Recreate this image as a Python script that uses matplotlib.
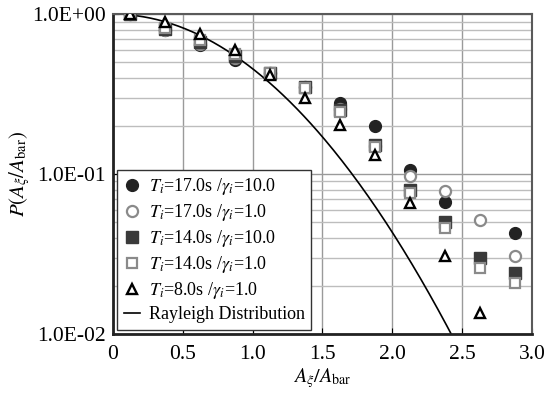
import matplotlib
matplotlib.use("Agg")
import matplotlib.pyplot as plt
import numpy as np
from matplotlib.ticker import FixedLocator, LogLocator, NullFormatter

plt.rcParams['font.family'] = ['Liberation Serif', 'DejaVu Serif']
plt.rcParams['mathtext.fontset'] = 'stix'

# bin centres of A/Abar
x = [0.125, 0.375, 0.625, 0.875, 1.125, 1.375, 1.625, 1.875, 2.125, 2.375, 2.625, 2.875]

# exceedance probabilities
t17_g10 = [1.0, 0.80, 0.64, 0.52, 0.43, 0.35, 0.279, 0.200, 0.106, 0.067, None, 0.043]
t17_g1 = [1.0, 0.80, 0.65, 0.53, 0.43, 0.35, 0.255, 0.150, 0.097, 0.078, 0.052, 0.031]
t14_g10 = [1.0, 0.81, 0.67, 0.55, 0.43, 0.35, 0.250, 0.152, 0.080, 0.050, 0.030, 0.024]
t14_g1 = [1.0, 0.82, 0.69, 0.56, 0.43, 0.345, 0.246, 0.148, 0.076, 0.046, 0.026, 0.021]
t8_g1 = [1.0, 0.90, 0.755, 0.60, 0.417, 0.30, 0.204, 0.131, 0.066, 0.031, 0.0135, None]

labels = [r"$T_i$=17.0s /$\gamma_i$=10.0",
          r"$T_i$=17.0s /$\gamma_i$=1.0",
          r"$T_i$=14.0s /$\gamma_i$=10.0",
          r"$T_i$=14.0s /$\gamma_i$=1.0",
          r"$T_i$=8.0s /$\gamma_i$=1.0",
          "Rayleigh Distribution"]

def clean(vals):
    return np.array([np.nan if v is None else v for v in vals], dtype=float)

fig = plt.figure(figsize=(5.48, 3.94), dpi=100)
ax = fig.add_axes([0.206, 0.152, 0.765, 0.812])

ax.plot(x, clean(t17_g10), 'o', ms=8.5, mfc='#222222', mec='#222222', label=labels[0], zorder=3)
ax.plot(x, clean(t17_g1), 'o', ms=8.0, mfc='white', mec='#8a8a8a', mew=1.6, label=labels[1], zorder=3)
ax.plot(x, clean(t14_g10), 's', ms=8.0, mfc='#3a3a3a', mec='#3a3a3a', label=labels[2], zorder=3)
ax.plot(x, clean(t14_g1), 's', ms=7.5, mfc='white', mec='#8a8a8a', mew=1.6, label=labels[3], zorder=3)
ax.plot(x, clean(t8_g1), '^', ms=7.0, mfc='white', mec='black', mew=1.7, label=labels[4], zorder=4)

# theoretical Rayleigh exceedance curve
xr = np.linspace(0.12, 2.6, 200)
ax.plot(xr, np.exp(-np.pi / 4 * xr ** 2), color='black', lw=1.2, label=labels[5], zorder=2)

ax.set_yscale('log')
ax.set_xlim(0, 3.0)
ax.set_ylim(0.01, 1.0)

ax.xaxis.set_major_locator(FixedLocator([0, 0.5, 1.0, 1.5, 2.0, 2.5, 3.0]))
ax.set_xticklabels(['0', '0.5', '1.0', '1.5', '2.0', '2.5', '3.0'])
ax.yaxis.set_major_locator(FixedLocator([0.01, 0.1, 1.0]))
ax.set_yticklabels(['1.0E-02', '1.0E-01', '1.0E+00'])
ax.yaxis.set_minor_locator(LogLocator(base=10, subs=np.arange(2, 10)))
ax.yaxis.set_minor_formatter(NullFormatter())

ax.grid(True, which='major', color='#9a9a9a', lw=1.0)
ax.grid(True, which='minor', axis='y', color='#bdbdbd', lw=1.0)
ax.set_axisbelow(True)

ax.tick_params(which='both', direction='in', labelsize=15.5)
ax.tick_params(axis='x', pad=8)
ax.tick_params(axis='y', pad=5)
ax.tick_params(which='minor', length=0)
ax.tick_params(which='major', length=4)

for s in ['left', 'bottom']:
    ax.spines[s].set_linewidth(2.0)
    ax.spines[s].set_color('#222222')
for s in ['top', 'right']:
    ax.spines[s].set_linewidth(1.5)
    ax.spines[s].set_color('#5a5a5a')

ax.set_xlabel(r"$A_\xi/A_{\rm bar}$", fontsize=14.5, labelpad=1)
ax.set_ylabel(r"$P(A_\xi/A_{\rm bar})$", fontsize=15, labelpad=0)

leg = ax.legend(loc='lower left', fontsize=13, frameon=True, fancybox=False,
                edgecolor='#333333', framealpha=1, handlelength=0.9,
                handletextpad=0.5, labelspacing=0.28, borderaxespad=0.25,
                borderpad=0.35)
leg.get_frame().set_linewidth(1.0)

fig.savefig('out.png', dpi=100)
